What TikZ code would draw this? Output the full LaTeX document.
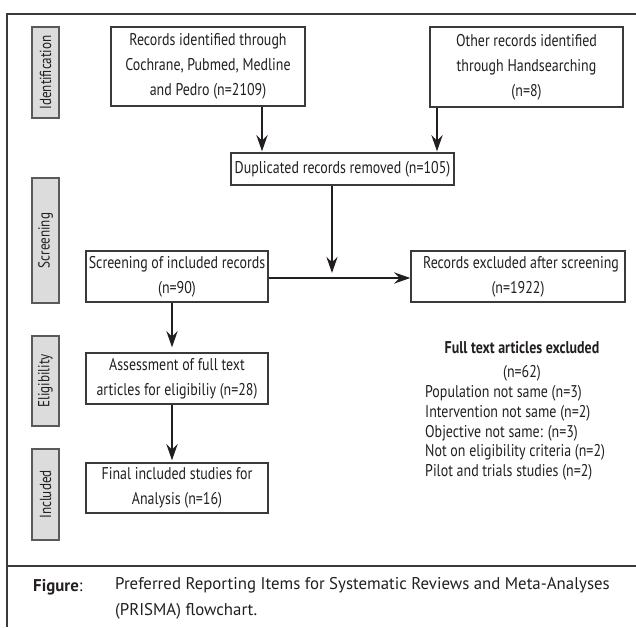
\documentclass[tikz,border=0pt]{standalone}
\usepackage{fontspec}
\setmainfont{PT Sans}[FakeStretch=0.82]
\newfontfamily\capfont{PT Sans}[FakeStretch=0.99]
\usetikzlibrary{arrows.meta,calc}
\definecolor{prink}{HTML}{231F20}
\definecolor{priline}{HTML}{3A3A3A}
\definecolor{prigrey}{HTML}{DCDCDC}
\definecolor{priedge}{HTML}{5A5A5A}
\tikzset{
  >=Stealth,
  font=\fontsize{17}{25}\selectfont,
  box/.style={draw=priline,line width=1.3pt,fill=white,text=prink,
              inner sep=2pt,align=center},
  stagebox/.style={draw=priedge,line width=1.2pt,fill=prigrey,text=prink,
                   rotate=90,inner sep=0pt,minimum height=27pt,
                   font=\fontsize{16}{18}\selectfont},
  flow/.style={-{Stealth[length=16pt,width=11pt]},line width=2.8pt,draw=prink},
  frame/.style={draw=priline,line width=2pt},
  listtxt/.style={text=prink,anchor=west,inner sep=0pt},
  captxt/.style={text=prink,inner sep=0pt,font=\capfont\fontsize{17}{26}\selectfont},
}
\begin{document}
\begin{tikzpicture}[x=1pt,y=-1pt]
  \useasboundingbox (0,0) rectangle (636,627);

  % ===== outer frame and caption rule =====
  \draw[frame] (636,14) -- (7,14) -- (7,627);
  \draw[frame,line width=1.5pt] (7,566) -- (636,566);

  % ===== stage labels down the left =====
  \node[stagebox,minimum width=91pt]  (sIdent) at (45.5,72.5)  {Identification};
  \node[stagebox,minimum width=125pt] (sScreen) at (45.5,240.5) {Screening};
  \node[stagebox,minimum width=90pt]  (sElig) at (45.5,381)   {Eligibility};
  \node[stagebox,minimum width=91pt]  (sIncl) at (45.5,494.5) {Included};

  % ===== flow boxes =====
  \node[box,minimum width=194pt,minimum height=79pt] (rec) at (208,66.5)
    {Records identified through\\Cochrane, Pubmed, Medline\\and Pedro (n=2109)};
  \node[box,minimum width=193pt,minimum height=80pt] (hand) at (526.5,67)
    {Other records identified\\through Handsearching\\(n=8)};
  \node[box,minimum width=223pt,minimum height=32pt] (dup) at (342.5,169)
    {Duplicated records removed (n=105)};
  \node[box,minimum width=182pt,minimum height=51pt] (screen) at (177,276.5)
    {Screening of included records\\(n=90)};
  \node[box,minimum width=214pt,minimum height=51pt] (excl) at (518,276.5)
    {\hspace{6pt}Records excluded after screening\\(n=1922)};
  \node[box,minimum width=182pt,minimum height=51pt] (assess) at (177,378.5)
    {Assessment of full text\\articles for eligibiliy (n=28)};
  \node[box,minimum width=182pt,minimum height=50pt] (final) at (177,488)
    {Final included studies for\\Analysis (n=16)};

  % ===== connectors =====
  \coordinate (colA) at (262,0);
  \coordinate (colB) at (437,0);
  \coordinate (colC) at (172,0);
  \coordinate (join) at (332,278);
  \draw[flow,shorten >=1pt] (rec.south -| colA) -- (dup.north -| colA);
  \draw[flow,shorten >=1pt] (hand.south -| colB) -- (dup.north -| colB);
  \draw[flow] (dup.south -| join) -- ([yshift=5pt]join);
  \draw[flow] (screen.east |- join) -- (excl.west |- join);
  \draw[flow,shorten >=5pt] (screen.south -| colC) -- (assess.north -| colC);
  \draw[flow,shorten >=2pt] (assess.south -| colC) -- (final.north -| colC);

  % ===== full text exclusions =====
  \node[text=prink,font=\fontsize{17}{24}\bfseries] (ftHead) at (522,348)
    {Full text articles excluded};
  \node[text=prink] (ftCount) at (522,373) {(n=62)};
  \foreach \y/\lbl in {393/Population not same (n=3),
                       413/Intervention not same (n=2),
                       433/Objective not same: (n=3),
                       452/Not on eligibility criteria (n=2),
                       472/Pilot and trials studies (n=2)}{
    \node[listtxt] at (425,\y) {\lbl};
  }

  % ===== caption =====
  \node[captxt,anchor=west] (capKey) at (33,587) {\textbf{Figure}:};
  \node[captxt,anchor=north west,align=left] (capText) at (115,577)
    {Preferred Reporting Items for Systematic Reviews and Meta-Analyses\\(PRISMA) flowchart.};
\end{tikzpicture}
\end{document}
